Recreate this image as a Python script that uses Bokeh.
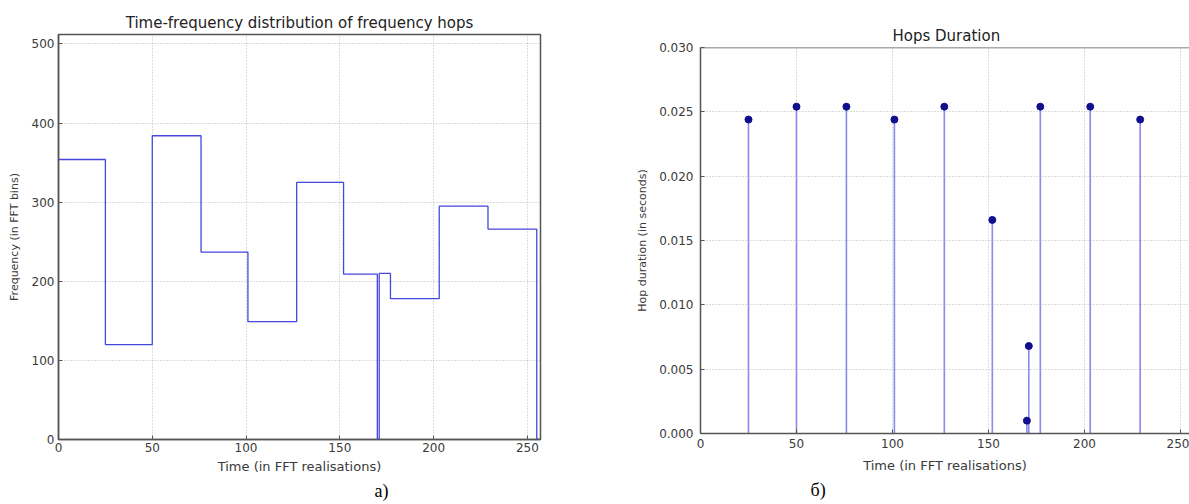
from bokeh.plotting import figure
from bokeh.layouts import row, column
from bokeh.models import FixedTicker, PrintfTickFormatter, Range1d, Title, Span, ColumnDataSource
from bokeh.embed import file_html
from bokeh.resources import INLINE

# ---- data ----
# left: frequency of each hop (FFT bins), step function starting at hop_start
hop_start = [0, 25, 50, 76, 101, 127, 152, 170, 171, 177, 203, 229, 255, 257]
hop_freq = [354, 120, 384, 237, 149, 325, 209, 0, 210, 178, 295, 266, 0, 0]

# right: duration of each hop (seconds) at hop boundaries
hop_end = [25, 50, 76, 101, 127, 152, 170, 171, 177, 203, 229]
hop_duration = [0.0244, 0.0254, 0.0254, 0.0244, 0.0254, 0.0166, 0.0010, 0.0068, 0.0254, 0.0254, 0.0244]

x_ticks = [0, 50, 100, 150, 200, 250]
freq_ticks = [0, 100, 200, 300, 400, 500]
dur_ticks = [0.0, 0.005, 0.010, 0.015, 0.020, 0.025, 0.030]

FONT = "DejaVu Sans"
AXC = "#555555"
TXT = "#3a3a3a"


def style_axis(ax, label_standoff, tick_standoff, label_size):
    ax.axis_line_color = AXC
    ax.axis_line_width = 1.5
    ax.major_tick_in = 4
    ax.major_tick_out = 0
    ax.major_tick_line_color = AXC
    ax.minor_tick_line_color = None
    ax.major_label_text_font = FONT
    ax.major_label_text_font_size = "12px"
    ax.major_label_text_color = TXT
    ax.major_label_standoff = tick_standoff
    ax.axis_label_text_font = FONT
    ax.axis_label_text_font_size = label_size
    ax.axis_label_text_font_style = "normal"
    ax.axis_label_text_color = TXT
    ax.axis_label_standoff = label_standoff


def style_grid(p):
    for g in (p.xgrid, p.ygrid):
        g.grid_line_color = "#aaaaaa"
        g.grid_line_dash = "1 2"
        g.grid_line_width = 1
        g.grid_line_alpha = 0.8


def style_title(t, standoff, align, offset):
    t.align = align
    t.offset = offset
    t.text_font = FONT
    t.text_font_size = "15px"
    t.text_font_style = "normal"
    t.text_color = "#222222"
    t.standoff = standoff


def caption(text, offset, standoff):
    return Title(text=text, align="left", offset=offset, text_font="Liberation Serif",
                 text_font_size="18px", text_font_style="normal", text_color="#000000",
                 standoff=standoff)


# ---- left plot ----
p1 = figure(width=628, height=504, x_range=Range1d(0, 257), y_range=Range1d(0, 512),
            output_backend="svg", toolbar_location=None,
            title="Time-frequency distribution of frequency hops",
            min_border_left=58, min_border_right=88, min_border_top=34, min_border_bottom=65)
style_title(p1.title, 6, "center", 0)

src1 = ColumnDataSource(dict(t=hop_start, f=hop_freq))
p1.step(x="t", y="f", source=src1, mode="after", line_color="#4646e0", line_width=1.3)

p1.xaxis.ticker = FixedTicker(ticks=x_ticks)
p1.yaxis.ticker = FixedTicker(ticks=freq_ticks)
p1.xaxis.axis_label = "Time (in FFT realisations)"
p1.yaxis.axis_label = "Frequency (in FFT bins)"
style_axis(p1.xaxis[0], 4, 3, "13px")
style_axis(p1.yaxis[0], 8, 4, "11px")
style_grid(p1)
p1.outline_line_color = AXC
p1.outline_line_width = 1.5
p1.add_layout(caption("\u0430)", 316, 4), "below")

# ---- right plot ----
p2 = figure(width=561, height=504, x_range=Range1d(0, 254.7), y_range=Range1d(0, 0.030),
            output_backend="svg", toolbar_location=None, title="Hops Duration",
            min_border_left=72, min_border_right=0, min_border_top=47, min_border_bottom=71)
style_title(p2.title, 6, "left", 192)

src2 = ColumnDataSource(dict(t=hop_end, d=hop_duration, z=[0] * len(hop_end)))
p2.segment(x0="t", y0="z", x1="t", y1="d", source=src2, line_color="#8a8aec", line_width=1.6)
p2.scatter(x="t", y="d", source=src2, size=7, fill_color="#10108f", line_color="#10108f")

p2.xaxis.ticker = FixedTicker(ticks=x_ticks)
p2.yaxis.ticker = FixedTicker(ticks=dur_ticks)
p2.yaxis.formatter = PrintfTickFormatter(format="%.3f")
p2.xaxis.axis_label = "Time (in FFT realisations)"
p2.yaxis.axis_label = "Hop duration (in seconds)"
style_axis(p2.xaxis[0], 7, 5, "13px")
style_axis(p2.yaxis[0], 7, 7, "11px")
style_grid(p2)
p2.outline_line_color = None
# top border of the (cropped) right panel
p2.add_layout(Span(location=dur_ticks[-1], dimension="width", line_color=AXC, line_width=1.5))
p2.add_layout(caption("\u0431)", 110, 4), "below")

layout = row(p1, column(p2))
open("out.html", "w").write(file_html(layout, INLINE))
